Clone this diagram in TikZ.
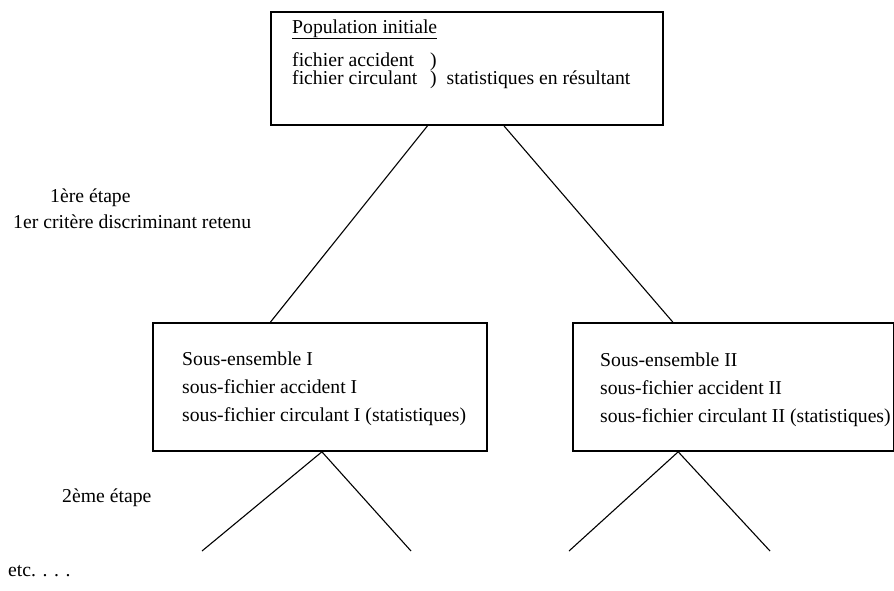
\documentclass[tikz,border=0pt]{standalone}
\usepackage{fontspec}
\setmainfont{Liberation Serif}
\usetikzlibrary{calc}
\begin{document}
\begin{tikzpicture}[x=1pt,y=-1pt,
    boite/.style={draw, line width=1.8pt, inner sep=0pt, anchor=north west},
    texte/.style={anchor=base west, inner sep=0pt, font=\fontsize{19.7}{23}\selectfont},
    trait/.style={line width=1.1pt}]
  \useasboundingbox (0,0) rectangle (894,590);

  % les trois cadres
  \node[boite, minimum width=392pt, minimum height=113pt] (init) at (270,11) {};
  \node[boite, minimum width=334pt, minimum height=128pt] (sousI) at (152,322) {};
  \node[boite, minimum width=321pt, minimum height=128pt] (sousII) at (572,322) {};

  % population initiale
  \node[texte] (pop) at (292,33) {\underline{Population initiale}};
  \node[texte] (acc) at (292,66) {fichier accident};
  \node[texte] (circ) at (292,84) {fichier circulant};
  \node[texte] (paracc) at (430,66) {)};
  \node[texte] (parcirc) at (430,84) {) \ statistiques en résultant};

  % sous-ensembles
  \node[texte] (titreI) at (182,365) {Sous-ensemble I};
  \node[texte] (accI) at (182,393) {sous-fichier accident I};
  \node[texte] (circI) at (182,421) {sous-fichier circulant I (statistiques)};
  \node[texte] (titreII) at (600,366) {Sous-ensemble II};
  \node[texte] (accII) at (600,394) {sous-fichier accident II};
  \node[texte] (circII) at (600,422) {sous-fichier circulant II (statistiques)};

  % etapes
  \node[texte] (etape1) at (50,202) {1ère étape};
  \node[texte] (critere) at (13,228) {1er critère discriminant retenu};
  \node[texte] (etape2) at (62,502) {2ème étape};
  \node[texte] (etc) at (8,576) {etc. . . .};

  % branches
  \draw[trait] ($(init.south west)!0.40!(init.south east)$) -- ($(sousI.north west)!0.353!(sousI.north east)$);
  \draw[trait] ($(init.south west)!0.594!(init.south east)$) -- ($(sousII.north west)!0.312!(sousII.north east)$);

  \coordinate (IG) at (202,551);
  \coordinate (ID) at (411,551);
  \coordinate (IIG) at (569,551);
  \coordinate (IID) at (770,551);
  \draw[trait] (IG) -- ($(sousI.south west)!0.506!(sousI.south east)$) -- (ID);
  \draw[trait] (IIG) -- ($(sousII.south west)!0.329!(sousII.south east)$) -- (IID);
\end{tikzpicture}
\end{document}
